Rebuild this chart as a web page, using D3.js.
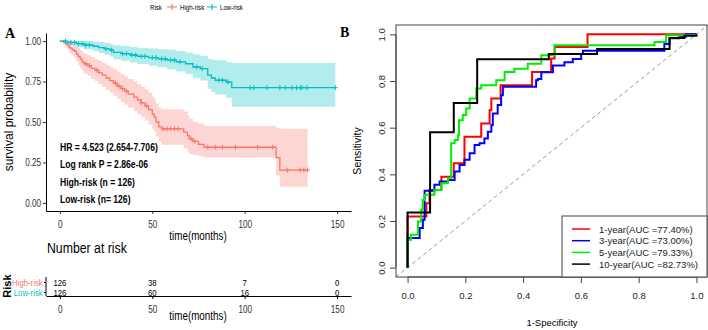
<!DOCTYPE html>
<html>
<head>
<meta charset="utf-8">
<script src="https://cdn.jsdelivr.net/npm/d3@7"></script>
<style>
  body { margin: 0; background: #fff; }
</style>
</head>
<body>
<div id="chart"></div>
<script>
// ---------- data : panel A (Kaplan-Meier) ----------
const survTicks = [0, 0.25, 0.5, 0.75, 1];
const timeTicks = [0, 50, 100, 150];
const groups = ["High-risk", "Low-risk"];

const highTime  = [0, 2, 3, 4, 5, 6, 7, 8, 9, 10, 11, 12, 13, 15, 17, 19, 21, 23, 25, 27, 29, 31, 33, 35, 37, 40, 42, 44, 46, 48, 50, 51, 52, 53.5, 55, 67, 69, 70, 72, 75, 78, 117, 119];
const highSurv  = [1, .992, .984, .976, .960, .952, .944, .936, .920, .904, .888, .872, .860, .848, .832, .820, .804, .790, .772, .756, .740, .722, .706, .690, .672, .654, .636, .618, .600, .576, .548, .530, .500, .470, .458, .437, .416, .396, .380, .362, .344, .280, .203];
const highLower = [1, .976, .962, .950, .928, .916, .906, .894, .872, .852, .832, .814, .800, .786, .766, .752, .734, .718, .698, .680, .662, .642, .624, .606, .588, .568, .548, .530, .510, .486, .456, .438, .410, .380, .360, .338, .318, .302, .296, .288, .281, .170, .100];
const highUpper = [1, 1, 1, 1, .992, .988, .982, .976, .966, .956, .944, .932, .922, .912, .900, .890, .878, .866, .852, .838, .826, .810, .796, .782, .766, .750, .734, .718, .702, .680, .656, .640, .615, .590, .578, .565, .538, .520, .502, .490, .476, .465, .458];
const highEnd = 134;
const highCensor = [14, 16, 20, 30, 32, 34, 36, 44, 47, 56, 58, 60, 62, 64, 71, 73, 80, 84, 88, 95, 107, 115, 123, 130, 132, 134];

const lowTime  = [0, 4, 9, 13, 18, 21, 24, 27, 29, 33, 38, 42, 48, 53, 58, 63, 68, 72, 76, 80, 82, 84, 90, 93];
const lowSurv  = [1, .992, .984, .976, .968, .960, .952, .944, .930, .922, .914, .906, .898, .890, .882, .872, .860, .840, .830, .790, .772, .758, .747, .712];
const lowLower = [1, .976, .962, .950, .938, .926, .916, .905, .888, .878, .868, .858, .848, .838, .826, .812, .796, .770, .756, .706, .686, .670, .650, .594];
const lowUpper = [1, 1, 1, 1, .998, .994, .990, .984, .975, .970, .964, .958, .954, .950, .946, .938, .930, .918, .910, .890, .885, .882, .870, .865];
const lowEnd = 149;
const lowCensor = [3, 6, 8, 10, 12, 14, 16, 25, 28, 34, 36, 39, 41, 44, 46, 50, 52, 55, 57, 60, 62, 65, 74, 77, 86, 88, 91, 103, 105, 112, 119, 122, 125.5, 128, 130, 131, 133.6, 149];

const riskHigh = [126, 38, 7, 0];
const riskLow  = [126, 60, 16, 0];
const statLines = ["HR = 4.523 (2.654-7.706)", "Log rank P = 2.86e-06", "High-risk (n = 126)", "Low-risk (n= 126)"];

// ---------- data : panel B (time dependent ROC) ----------
const rocTicks = [0, 0.2, 0.4, 0.6, 0.8, 1.0];
const roc1Year = [[0,0],[0,.219],[.065,.276],[.076,.333],[.117,.39],[.16,.447],[.197,.561],[.255,.618],[.284,.675],[.29,.725],[.322,.782],[.431,.839],[.497,.896],[.509,.946],[.623,1],[1,1]];
const roc3Year = [[0,0],[0,.127],[.042,.17],[.053,.205],[.059,.33],[.093,.355],[.111,.369],[.14,.376],[.163,.412],[.18,.44],[.197,.462],[.215,.49],[.232,.526],[.249,.533],[.266,.554],[.278,.583],[.29,.611],[.295,.661],[.312,.697],[.324,.739],[.33,.775],[.445,.803],[.451,.809],[.463,.838],[.503,.866],[.543,.88],[.572,.894],[.601,.916],[.607,.93],[.889,.959],[.907,.983],[.941,.99],[.964,1],[1,1]];
const roc5Year = [[0,0],[0,.12],[.012,.141],[.036,.198],[.047,.248],[.052,.29],[.059,.312],[.093,.333],[.117,.362],[.14,.383],[.151,.533],[.163,.547],[.174,.568],[.178,.632],[.191,.654],[.203,.682],[.215,.725],[.238,.768],[.255,.782],[.307,.803],[.336,.839],[.37,.853],[.416,.874],[.463,.91],[.509,.953],[.855,.967],[.895,.996],[1,1]];
const roc10Year = [[0,0],[0,.236],[.078,.58],[.16,.706],[.241,.893],[.489,.916],[.656,.937],[.907,.984],[.958,.994],[1,1]];
const rocLabels = ["1-year(AUC =77.40%)", "3-year(AUC =73.00%)", "5-year(AUC =79.33%)", "10-year(AUC =82.73%)"];

// ---------- styles ----------
const groupColors = ["#F8766D", "#00BFC4"];
const rocColors = ["#ff0000", "#0000ff", "#00ee00", "#000000"];
const SANS = "'Liberation Sans', Arial, sans-serif";
const SQ = 0.82;   // panel A text looks horizontally condensed

const svg = d3.select("#chart")
  .append("svg")
  .attr("width", 708)
  .attr("height", 330)
  .style("font-family", SANS);

svg.append("rect").attr("width", 708).attr("height", 330).attr("fill", "#fff");

// condensed text helper
const label = (x0, y0, txt, size) => svg.append("text")
  .attr("transform", `translate(${x0},${y0}) scale(${SQ},1)`)
  .style("font-size", size + "px").text(txt);

// ================= panel A =================
const x = d3.scaleLinear().domain([-7.5, 157.5]).range([46, 351]);
const y = d3.scaleLinear().domain([-0.05, 1.05]).range([211, 33]);

const steps = (t, s, end) => t.map((d, i) => [d, s[i]]).concat([[end, s[s.length - 1]]]);
const survAt = (t, s, v) => s[d3.bisectRight(t, v) - 1];

const line = d3.line().x(d => x(d[0])).y(d => y(d[1])).curve(d3.curveStepAfter);
const band = d3.area().x(d => x(d.t)).y0(d => y(d.lo)).y1(d => y(d.hi)).curve(d3.curveStepAfter);

const km = [
  {t: highTime, s: highSurv, lo: highLower, hi: highUpper, end: highEnd, cens: highCensor},
  {t: lowTime, s: lowSurv, lo: lowLower, hi: lowUpper, end: lowEnd, cens: lowCensor}
];

km.forEach((g, k) => {
  const bd = g.t.map((d, i) => ({t: d, lo: g.lo[i], hi: g.hi[i]}));
  bd.push({t: g.end, lo: g.lo[g.lo.length - 1], hi: g.hi[g.hi.length - 1]});
  svg.append("path").attr("d", band(bd))
    .attr("fill", groupColors[k]).attr("fill-opacity", 0.3);
});

km.forEach((g, k) => {
  svg.append("path").attr("d", line(steps(g.t, g.s, g.end)))
    .attr("fill", "none").attr("stroke", groupColors[k]).attr("stroke-width", 1.3);
  svg.selectAll(null).data(g.cens).join("path")
    .attr("d", d => {
      const cx = x(d), cy = y(survAt(g.t, g.s, d));
      return `M${cx - 2.5},${cy}h5M${cx},${cy - 2.5}v5`;
    })
    .attr("stroke", groupColors[k]).attr("stroke-width", 1);
});

// axes
const yAxis = svg.append("g").attr("transform", "translate(46,0)")
  .call(d3.axisLeft(y).tickValues(survTicks).tickFormat(d3.format(".2f")).tickSize(3).tickSizeOuter(0));
const xAxis = svg.append("g").attr("transform", "translate(0,211)")
  .call(d3.axisBottom(x).tickValues(timeTicks).tickSize(3).tickSizeOuter(0));
[yAxis, xAxis].forEach(a => {
  a.select(".domain").attr("stroke", "#000");
  a.selectAll(".tick line").attr("stroke", "#333");
  a.selectAll("text").attr("fill", "#333").style("font-family", SANS).style("font-size", "10px")
    .attr("transform", `scale(${SQ},1)`);
});
xAxis.selectAll("text").attr("dy", "1.1em");

svg.append("text").attr("transform", "translate(13,122) rotate(-90)")
  .attr("text-anchor", "middle").style("font-size", "12px").text("survival probability");
label(198, 240, "time(months)", 12).attr("text-anchor", "middle");

// statistics annotation
statLines.forEach((s, i) => {
  label(60, 151 + i * 17.3, s, 10.5).style("font-weight", "bold");
});

// legend
label(150, 10, "Risk", 7.5);
[167, 207].forEach((lx, k) => {
  svg.append("path").attr("d", `M${lx},7h10M${lx + 5},4v6`)
    .attr("stroke", groupColors[k]).attr("stroke-width", 1.2);
  label(lx + 13, 10, groups[k], 7.5);
});

svg.append("text").attr("x", 5).attr("y", 38)
  .style("font-family", "'Liberation Serif', serif").style("font-weight", "bold").style("font-size", "14px").text("A");

// risk table
label(47, 253, "Number at risk", 15);
const ry = d3.scalePoint().domain(groups).range([282, 292]);
[riskHigh, riskLow].forEach((row, k) => {
  row.forEach((v, i) => {
    label(x(timeTicks[i]), ry(groups[k]) + 3.5, v, 9.5).attr("text-anchor", "middle");
  });
});
const rAxis = svg.append("g").attr("transform", "translate(46,0)")
  .call(d3.axisLeft(ry).tickSize(2).tickSizeOuter(0).tickPadding(2));
rAxis.select(".domain").attr("d", "M0,277V296").attr("stroke", "#000");
rAxis.selectAll("text").style("font-family", SANS).style("font-size", "9.5px")
  .attr("transform", `scale(${SQ},1)`)
  .attr("fill", (d, i) => groupColors[i]);
const rxAxis = svg.append("g").attr("transform", "translate(0,296)")
  .call(d3.axisBottom(x).tickValues(timeTicks).tickSize(3).tickSizeOuter(0));
rxAxis.select(".domain").attr("stroke", "#000");
rxAxis.selectAll("text").attr("fill", "#333").style("font-family", SANS).style("font-size", "10px")
  .attr("transform", `scale(${SQ},1)`).attr("dy", "1.1em");
label(198, 320, "time(months)", 12).attr("text-anchor", "middle");
svg.append("text").attr("transform", "translate(10.5,286) rotate(-90)")
  .attr("text-anchor", "middle").style("font-weight", "bold").style("font-size", "11px").text("Risk");

// ================= panel B =================
const rx = d3.scaleLinear().domain([-0.04, 1.04]).range([396, 708]);
const ryS = d3.scaleLinear().domain([-0.04, 1.04]).range([277, 25]);

svg.append("text").attr("x", 340).attr("y", 37)
  .style("font-family", "'Liberation Serif', serif").style("font-weight", "bold").style("font-size", "14px").text("B");

svg.append("line")
  .attr("x1", rx(-0.04)).attr("y1", ryS(-0.04)).attr("x2", rx(1.04)).attr("y2", ryS(1.04))
  .attr("stroke", "#999").attr("stroke-dasharray", "4,3");

const rocLine = d3.line().x(d => rx(d[0])).y(d => ryS(d[1])).curve(d3.curveStepAfter);
[roc1Year, roc3Year, roc5Year, roc10Year].forEach((r, k) => {
  svg.append("path").attr("d", rocLine(r))
    .attr("fill", "none").attr("stroke", rocColors[k]).attr("stroke-width", 2);
});

svg.append("rect").attr("x", 396).attr("y", 25).attr("width", 311).attr("height", 252)
  .attr("fill", "none").attr("stroke", "#444");

const bx = svg.append("g").attr("transform", "translate(0,277)")
  .call(d3.axisBottom(rx).tickValues(rocTicks).tickFormat(d3.format(".1f")).tickSize(6).tickPadding(9));
bx.select(".domain").attr("d", `M${rx(0)},0H${rx(1)}`).attr("stroke", "#444");
const by = svg.append("g").attr("transform", "translate(396,0)")
  .call(d3.axisLeft(ryS).tickValues(rocTicks).tickFormat(d3.format(".1f")).tickSize(6));
by.select(".domain").attr("d", `M0,${ryS(0)}V${ryS(1)}`).attr("stroke", "#444");
by.selectAll(".tick text").attr("transform", "rotate(-90)").attr("x", 0).attr("y", -11)
  .attr("dy", "0").attr("text-anchor", "middle");
[bx, by].forEach(a => {
  a.selectAll(".tick line").attr("stroke", "#444");
  a.selectAll("text").attr("fill", "#222").style("font-family", SANS).style("font-size", "9.5px");
});

svg.append("text").attr("x", 552).attr("y", 326).attr("text-anchor", "middle")
  .style("font-size", "9.5px").text("1-Specificity");
svg.append("text").attr("transform", "translate(361,151) rotate(-90)")
  .attr("text-anchor", "middle").style("font-size", "10.5px").text("Sensitivity");

// legend
svg.append("rect").attr("x", 562).attr("y", 216).attr("width", 145).attr("height", 61)
  .attr("fill", "#fff").attr("stroke", "#444");
rocLabels.forEach((lab, k) => {
  const ly = 229 + k * 11.7;
  svg.append("line").attr("x1", 572).attr("x2", 590).attr("y1", ly).attr("y2", ly)
    .attr("stroke", rocColors[k]).attr("stroke-width", 1.5);
  svg.append("text").attr("x", 599).attr("y", ly + 3.5)
    .style("font-size", "9.5px").attr("fill", "#222").text(lab);
});
</script>
</body>
</html>
